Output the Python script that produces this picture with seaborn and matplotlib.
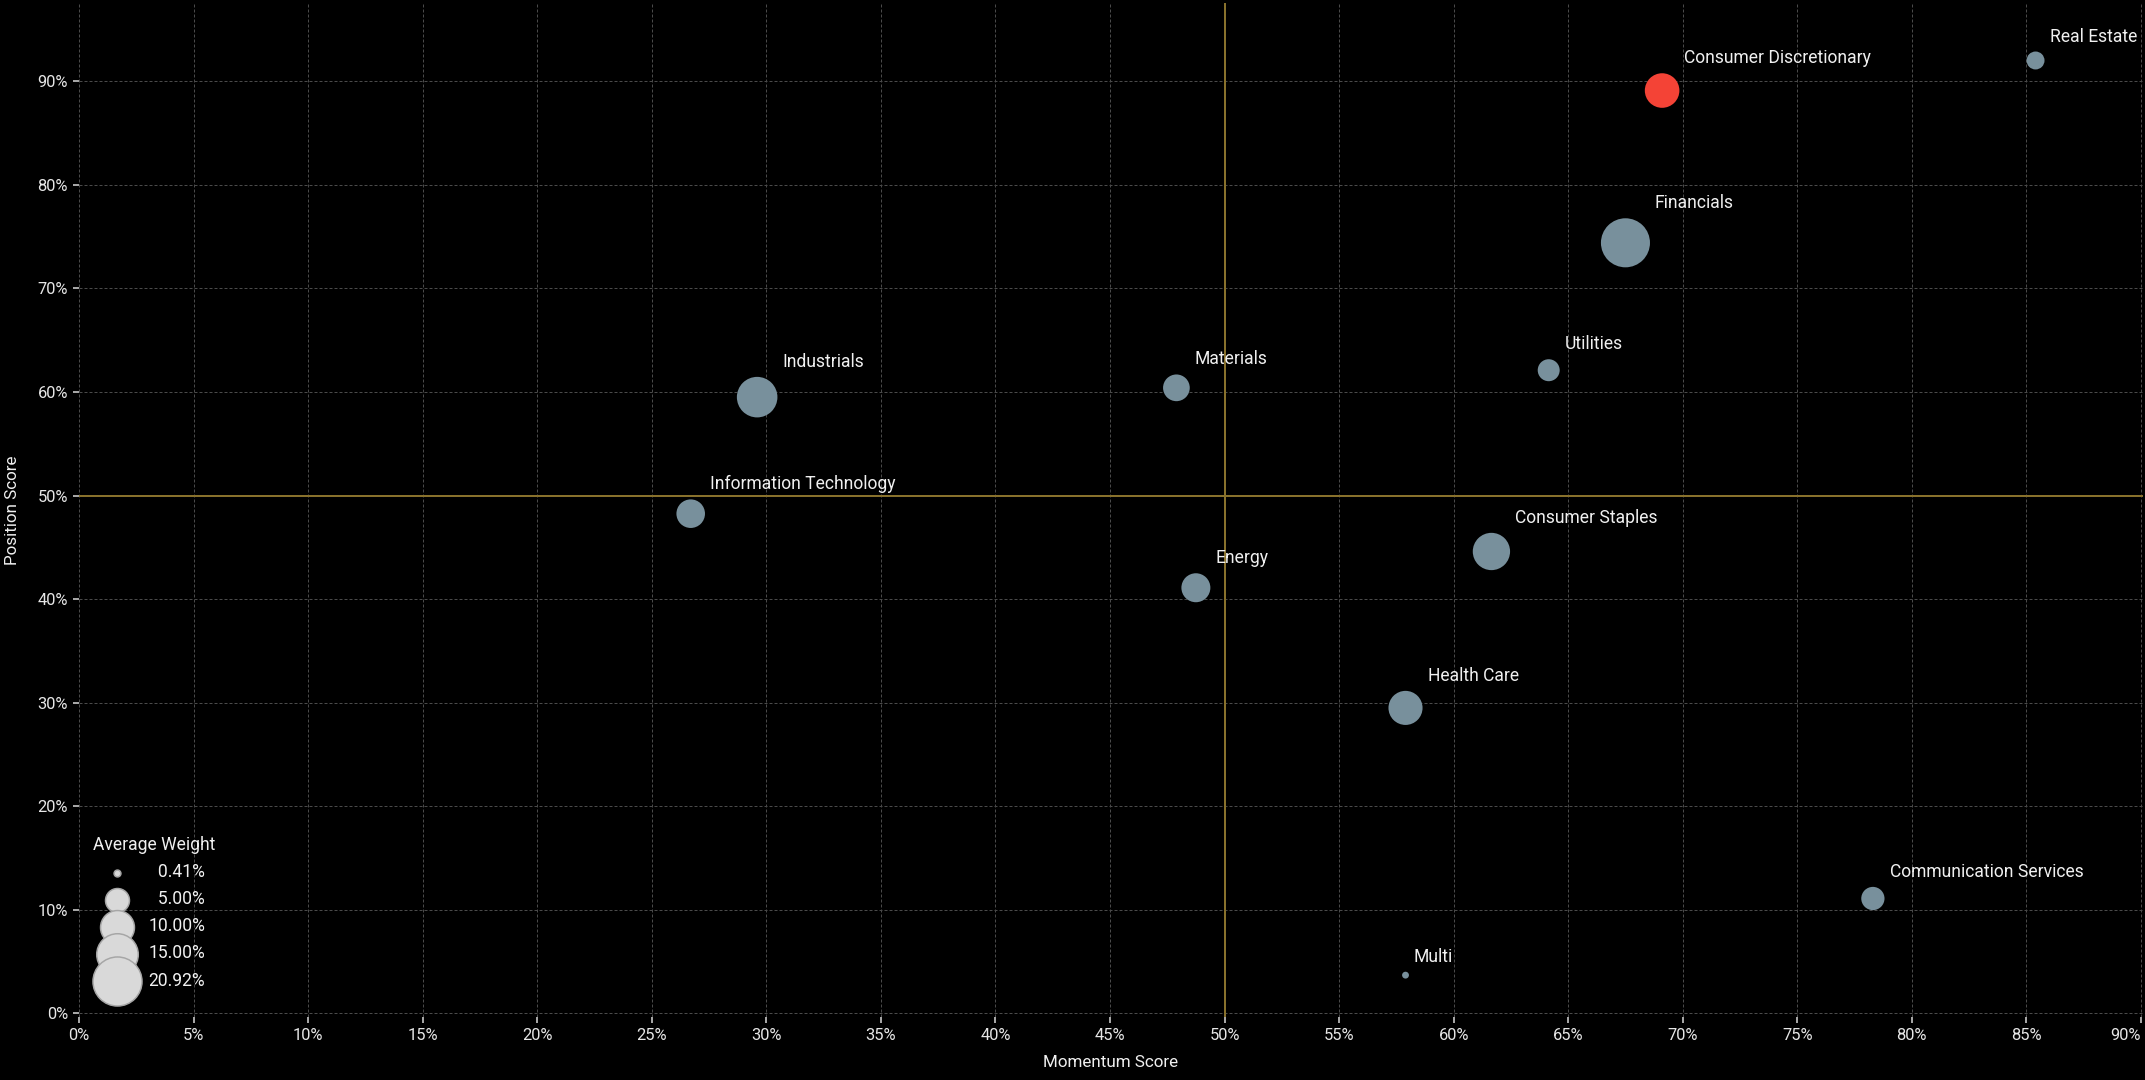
import numpy as np
import pandas as pd
import seaborn as sns
import matplotlib.pyplot as plt
from matplotlib.ticker import FuncFormatter

sectors = ['Real Estate', 'Consumer Discretionary', 'Financials', 'Utilities', 'Materials',
           'Industrials', 'Information Technology', 'Consumer Staples', 'Energy',
           'Health Care', 'Communication Services', 'Multi']
momentum = [85.4, 69.1, 67.5, 64.15, 47.9, 29.6, 26.7, 61.65, 48.75, 57.9, 78.3, 57.9]
position = [92.0, 89.1, 74.4, 62.1, 60.4, 59.5, 48.25, 44.6, 41.1, 29.5, 11.1, 3.7]
weight = [2.8, 10.4, 20.92, 4.2, 6.2, 14.3, 7.1, 12.1, 7.3, 10.1, 4.7, 0.41]
legend_weights = [0.41, 5.00, 10.00, 15.00, 20.92]
x_ticks = list(range(0, 95, 5))
y_ticks = list(range(0, 100, 10))
highlight = 'Consumer Discretionary'

AREA = 115  # marker area (pt^2) per weight percent
TEXT = '#f0f0f0'
GOLD = '#88712c'

sns.set_style('ticks', {'axes.facecolor': 'black', 'figure.facecolor': 'black'})
plt.rcParams['font.family'] = ['Roboto', 'DejaVu Sans']

fig = plt.figure(figsize=(2145 / 72, 1080 / 72), dpi=72, facecolor='black')
ax = fig.add_axes([79 / 2145, 63 / 1080, 2064 / 2145, 1014 / 1080])
ax.set_facecolor('black')

df = pd.DataFrame({'sector': sectors, 'momentum': momentum,
                   'position': position, 'weight': weight})
df['group'] = np.where(df['sector'] == highlight, 'highlight', 'normal')

ax.axvline(50, color=GOLD, lw=2, zorder=1)
ax.axhline(50, color=GOLD, lw=2, zorder=1)

sns.scatterplot(data=df, x='momentum', y='position', size='weight',
                sizes=(AREA * 0.41, AREA * 20.92), size_norm=(0.41, 20.92),
                hue='group', palette={'normal': '#78909C', 'highlight': '#F44336'},
                linewidth=0, alpha=1, legend=False, ax=ax, zorder=3)

for _, row in df.iterrows():
    r = np.sqrt(AREA * row['weight']) / 2
    ax.annotate(row['sector'], (row['momentum'], row['position']),
                xytext=(r + 5, r + 15), textcoords='offset points',
                ha='left', va='center', fontsize=17.5, color=TEXT, zorder=4)

ax.set_xlim(0, 90.09)
ax.set_ylim(-0.34, 97.55)
ax.set_xticks(x_ticks)
ax.set_yticks(y_ticks)
pct = FuncFormatter(lambda v, _: f'{v:.0f}%')
ax.xaxis.set_major_formatter(pct)
ax.yaxis.set_major_formatter(pct)

ax.grid(True, color='#4a4a4a', linestyle=(0, (3, 2)), linewidth=1)
ax.set_axisbelow(True)
for s in ax.spines.values():
    s.set_visible(False)
ax.tick_params(colors='#dddddd', labelcolor='#e6e6e6', labelsize=16.5, length=6,
               width=1.5, pad=5, bottom=True, left=True)
ax.xaxis.get_major_ticks()[-1].label1.set_horizontalalignment('right')

ax.set_xlabel('Momentum Score', fontsize=17, color=TEXT, labelpad=12)
ax.set_ylabel('Position Score', fontsize=17, color=TEXT, labelpad=17)

handles = [ax.scatter([], [], s=AREA * w, color='#d9d9d9', edgecolor='#a6a6a6', linewidth=1.5)
           for w in legend_weights]
labels = [f'{w:.2f}%'.rjust(6, '\u2007') for w in legend_weights]
leg = ax.legend(handles, labels, title='Average Weight', loc='upper left',
                bbox_to_anchor=(93 / 2145, 244 / 1080), bbox_transform=fig.transFigure,
                frameon=False, fontsize=17.5, title_fontsize=17.5, labelspacing=0.52,
                handlelength=1.6, handletextpad=1.0, borderpad=0, borderaxespad=0,
                labelcolor=TEXT)
leg.get_title().set_color(TEXT)

fig.savefig('out.png', dpi=72, facecolor='black')
